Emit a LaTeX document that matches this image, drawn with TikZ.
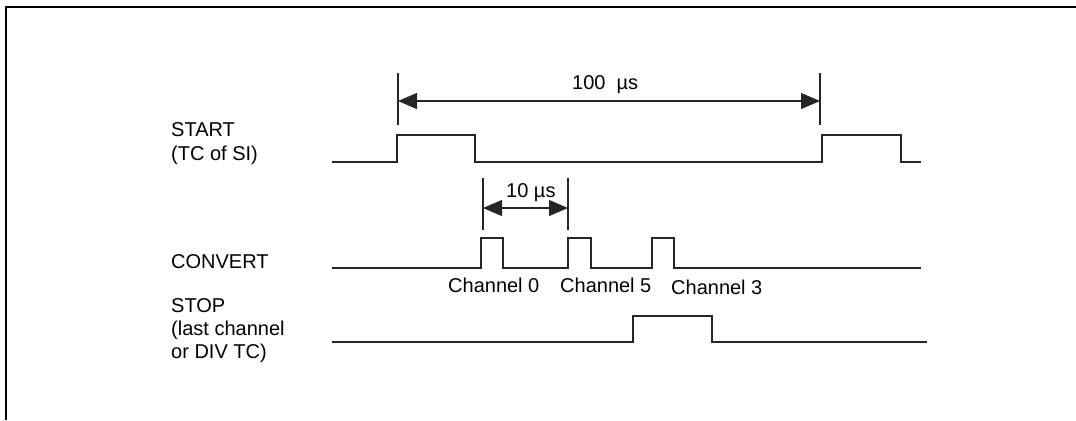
\documentclass[tikz,border=0pt]{standalone}
\usepackage{fontspec}
\setmainfont{Liberation Sans}
\usetikzlibrary{arrows.meta}
\begin{document}
\begin{tikzpicture}[x=1bp,y=-1bp,
  lbl/.style={inner sep=0pt,anchor=base west,font=\fontsize{20bp}{23.5bp}\selectfont},
  wave/.style={line width=1.3bp,black!85},
  tick/.style={line width=1.1bp,black!85},
  dim/.style={line width=1.1bp,black!85,{Triangle[length=19bp,width=16bp]}-{Triangle[length=19bp,width=16bp]}},
  frameline/.style={line width=2bp,black}]
\useasboundingbox (0,0) rectangle (1076,420);
% frame
\draw[frameline] (6,420) -- (6,7) -- (1076,7);
% signal labels
\node[lbl] (startA) at (171,136) {START};
\node[lbl] (startB) at (171,160) {(TC of SI)};
\node[lbl] (conv) at (171,268) {CONVERT};
\node[lbl] (stopA) at (171,312) {STOP};
\node[lbl] (stopB) at (171,335) {(last channel};
\node[lbl] (stopC) at (171,358) {or DIV TC)};
% START waveform
\draw[wave] (332,162) -- (397,162) -- (397,135) -- (475,135) -- (475,162)
  -- (822,162) -- (822,135) -- (901,135) -- (901,162) -- (921,162);
% 100 us dimension
\coordinate (t1a) at (398,73); \coordinate (t1b) at (398,125);
\coordinate (t2a) at (820,73); \coordinate (t2b) at (820,125);
\draw[tick] (t1a) -- (t1b);
\draw[tick] (t2a) -- (t2b);
\coordinate (d1) at (398,101); \coordinate (d2) at (820,101);
\draw[dim] (d1) -- (d2);
\node[lbl] (hundred) at (572,89) {100\ \ µs};
% CONVERT waveform
\draw[wave] (332,268) -- (481,268) -- (481,238) -- (503,238) -- (503,268)
  -- (568,268) -- (568,238) -- (591,238) -- (591,268)
  -- (652,268) -- (652,238) -- (674,238) -- (674,268) -- (921,268);
% 10 us dimension
\coordinate (t3a) at (483,178); \coordinate (t3b) at (483,230);
\coordinate (t4a) at (568,178); \coordinate (t4b) at (568,230);
\draw[tick] (t3a) -- (t3b);
\draw[tick] (t4a) -- (t4b);
\coordinate (d3) at (483,208); \coordinate (d4) at (568,208);
\draw[dim] (d3) -- (d4);
\node[lbl] (ten) at (506,197) {10 µs};
% channel labels
\node[lbl] (ch0) at (448,292.5) {Channel 0};
\node[lbl] (ch5) at (560,292.5) {Channel 5};
\node[lbl] (ch3) at (671,294.5) {Channel 3};
% STOP waveform
\draw[wave] (332,342) -- (633,342) -- (633,316) -- (712,316) -- (712,342) -- (927,342);
\end{tikzpicture}
\end{document}
